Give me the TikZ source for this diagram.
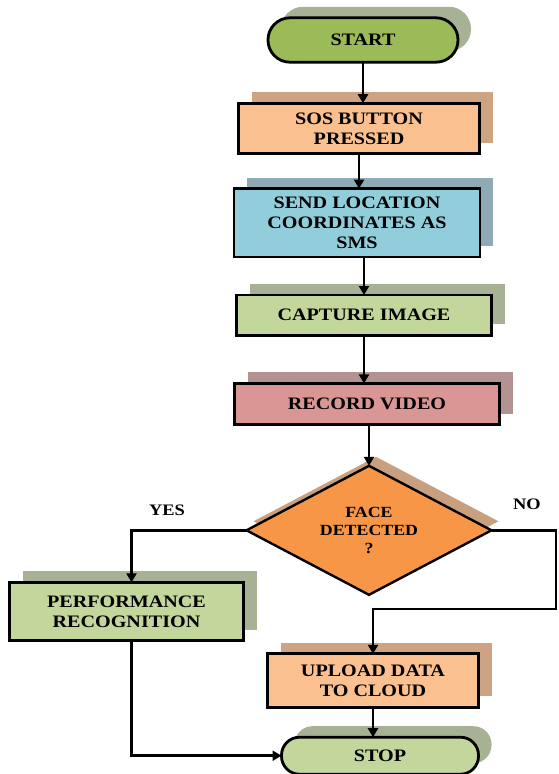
\documentclass[tikz,border=0pt]{standalone}
\usepackage{xcolor}
\usepackage{fontspec}
\newfontfamily\flowfont{Liberation Serif}[FakeStretch=1.15]
\usepackage{tikz}
\usetikzlibrary{shapes.geometric, arrows.meta, positioning, calc, shadows}

\definecolor{startfill}{HTML}{9BBB59}
\definecolor{greenfill}{HTML}{C3D69B}
\definecolor{greenshade}{HTML}{A7B194}
\definecolor{peachfill}{HTML}{FAC090}
\definecolor{peachshade}{HTML}{CDA383}
\definecolor{bluefill}{HTML}{92CDDC}
\definecolor{blueshade}{HTML}{8FAAB4}
\definecolor{rosefill}{HTML}{D99694}
\definecolor{roseshade}{HTML}{B39292}
\definecolor{orangefill}{HTML}{F79646}
\definecolor{orangeshade}{HTML}{C9A07F}

\begin{document}
\begin{tikzpicture}[
    x=1pt, y=-1pt,
    txt/.style={font=\flowfont\bfseries\fontsize{17.5}{20}\selectfont},
    box/.style={rectangle, draw, line width=2.8pt, outer sep=0pt, align=center, txt, inner sep=2pt},
    term/.style={box, rounded corners=18pt},
    shade/.style={drop shadow={shadow xshift=13pt, shadow yshift=11pt, fill=#1, opacity=1}},
    decision/.style={diamond, aspect=1.9, draw, line width=2.4pt, outer sep=0pt, align=center, inner sep=0pt,
        font=\flowfont\bfseries\fontsize{15.5}{18}\selectfont},
    lbl/.style={font=\flowfont\bfseries\fontsize{16}{18}\selectfont},
    arrow/.style={-{Triangle[length=9pt, width=10pt]}, line width=2.5pt},
]
\useasboundingbox (0,0) rectangle (558,774);

\node[term, fill=startfill, shade=greenshade, minimum width=190pt, minimum height=44.4pt, rounded corners=22pt] (start) at (363,40) {START};
\node[box, fill=peachfill, shade=peachshade, minimum width=241pt, minimum height=50.4pt, below=41pt of start, xshift=-4pt] (sos) {SOS BUTTON\\PRESSED};
\node[box, fill=bluefill, shade=blueshade, minimum width=246pt, minimum height=68.4pt, below=35pt of sos, xshift=-2pt] (send) {SEND LOCATION\\COORDINATES AS\\SMS};
\node[box, fill=greenfill, shade=greenshade, minimum width=255pt, minimum height=40.4pt, below=38pt of send, xshift=7pt] (capture) {CAPTURE IMAGE};
\node[box, fill=rosefill, shade=roseshade, minimum width=265pt, minimum height=41.4pt, below=48pt of capture, xshift=3pt] (record) {RECORD VIDEO};
\node[decision, fill=orangefill, drop shadow={shadow xshift=7pt, shadow yshift=9pt, fill=orangeshade, opacity=1},
      minimum width=245pt, minimum height=129pt, below=41pt of record, xshift=2pt] (face) {FACE\\DETECTED\\?};
\node[box, fill=greenfill, shade=greenshade, minimum width=234pt, minimum height=58.4pt] (perf) at (126.5,611.5) {PERFORMANCE\\RECOGNITION};
\node[box, fill=peachfill, shade=peachshade, minimum width=211pt, minimum height=53.4pt, below=59pt of face, xshift=4pt] (upload) {UPLOAD DATA\\TO CLOUD};
\node[term, fill=greenfill, shade=greenshade, minimum width=197pt, minimum height=37pt, below=30pt of upload, xshift=7pt] (stop) {STOP};

\node[lbl] (yes) at (167,510) {YES};
\node[lbl] (no) at (527,504) {NO};
\coordinate (noturn) at (556,609);

\draw[arrow] (start.south) -- (start.south |- sos.north);
\draw[arrow] (sos.south) -- (sos.south |- send.north);
\draw[arrow] (send.south -| capture) -- (capture.north);
\draw[arrow] (capture.south) -- (capture.south |- record.north);
\draw[arrow] (record.south -| face) -- (face.north);
\draw[arrow] (face.west) -| ([xshift=5pt]perf.north);
\draw[arrow] (face.east) -| (noturn) -| (upload.north);
\draw[arrow] (upload.south) -- (upload.south |- stop.north);
\draw[arrow] ([xshift=5pt]perf.south) |- (stop.west);
\end{tikzpicture}
\end{document}
